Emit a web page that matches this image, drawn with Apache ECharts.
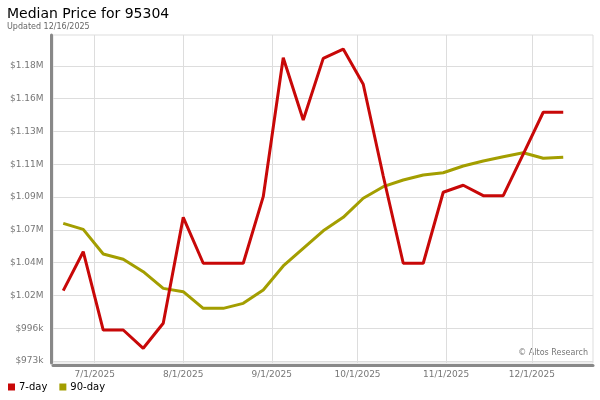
<!DOCTYPE html>
<html><head><meta charset="utf-8">
<script src="https://cdn.jsdelivr.net/npm/echarts@6/dist/echarts.min.js"></script>
<style>html,body{margin:0;padding:0;background:#fff}#c{width:600px;height:400px}</style>
</head><body><div id="c"></div>
<script>
var dates = ['2025-06-20','2025-06-27','2025-07-04','2025-07-11','2025-07-18','2025-07-25','2025-08-01','2025-08-08','2025-08-15','2025-08-22','2025-08-29','2025-09-05','2025-09-12','2025-09-19','2025-09-26','2025-10-03','2025-10-10','2025-10-17','2025-10-24','2025-10-31','2025-11-07','2025-11-14','2025-11-21','2025-11-28','2025-12-05','2025-12-12'];
var sevenDay = [1022400,1049700,994800,994800,982000,999500,1073800,1041600,1041600,1041600,1088300,1185700,1142100,1185300,1191800,1167100,1102800,1041600,1041600,1091400,1096300,1089000,1089000,1118200,1147500,1147500];
var ninetyDay = [1069600,1065400,1048100,1044400,1035700,1024000,1021700,1010000,1010000,1013500,1022900,1039700,1052100,1064400,1073800,1087200,1095300,1100000,1103500,1105100,1109800,1113300,1116300,1119100,1115200,1115900];
var yTickValues = [973000,996000,1019000,1042000,1065000,1088000,1111000,1134000,1157000,1180000];
var yTickLabels = ['$973k','$996k','$1.02M','$1.04M','$1.07M','$1.09M','$1.11M','$1.13M','$1.16M','$1.18M'];
var xTickDates = ['2025-07-01','2025-08-01','2025-09-01','2025-10-01','2025-11-01','2025-12-01'];
var xTickLabels = ['7/1/2025','8/1/2025','9/1/2025','10/1/2025','11/1/2025','12/1/2025'];

var P = function(s){ return +echarts.time.parse(s); };
var xTickTs = xTickDates.map(P);
var FONT = 'DejaVu Sans';
var chart = echarts.init(document.getElementById('c'), null, {renderer:'canvas'});
chart.setOption({
  animation:false,
  textStyle:{fontFamily:FONT},
  title:{text:'Median Price for 95304', subtext:'Updated 12/16/2025', left:2, top:2, itemGap:2,
    textStyle:{fontFamily:FONT, fontSize:14, fontWeight:'normal', color:'#000'},
    subtextStyle:{fontFamily:FONT, fontSize:8, color:'#666'}},
  legend:{left:3, bottom:3, icon:'rect', itemWidth:7, itemHeight:7, itemGap:12,
    textStyle:{fontFamily:FONT, fontSize:10, color:'#000', padding:[0,0,0,-1]},
    data:['7-day','90-day']},
  grid:{left:53, right:7, top:35, bottom:37, show:true, borderColor:'#ddd', borderWidth:1},
  xAxis:{type:'value', min:P('2025-06-16 10:00'), max:P('2025-12-22 10:00'),
    axisLine:{show:true, onZero:false, lineStyle:{color:'#888', width:3}},
    offset:2,
    axisTick:{show:false, customValues:xTickTs},
    splitLine:{show:true, lineStyle:{color:'#ddd', width:1}},
    axisLabel:{customValues:xTickTs, fontFamily:FONT, fontSize:9, color:'#777', margin:5,
      formatter:function(v){ var i=xTickTs.indexOf(v); return i>=0?xTickLabels[i]:''; }}},
  yAxis:{type:'value', min:971670, max:1201670, offset:1.5,
    axisLine:{show:true, lineStyle:{color:'#888', width:3}},
    axisTick:{show:false, customValues:yTickValues},
    splitLine:{show:true, lineStyle:{color:'#ddd', width:1}},
    axisLabel:{customValues:yTickValues, fontFamily:FONT, fontSize:9, color:'#777', margin:8,
      formatter:function(v){ var i=yTickValues.indexOf(v); return i>=0?yTickLabels[i]:''; }}},
  graphic:[{type:'text', right:12, top:349, style:{text:'\u00a9 Altos Research', fontFamily:FONT, fontSize:8, fill:'#777'}}],
  series:[
    {name:'7-day', type:'line', data:dates.map(function(d,i){return [P(d), sevenDay[i]];}), showSymbol:false, symbol:'none',
      lineStyle:{color:'#c80808', width:3}, itemStyle:{color:'#c80808'}, z:3},
    {name:'90-day', type:'line', data:dates.map(function(d,i){return [P(d), ninetyDay[i]];}), showSymbol:false, symbol:'none',
      lineStyle:{color:'#a39e00', width:3}, itemStyle:{color:'#a39e00'}, z:2}
  ]
});
</script></body></html>
